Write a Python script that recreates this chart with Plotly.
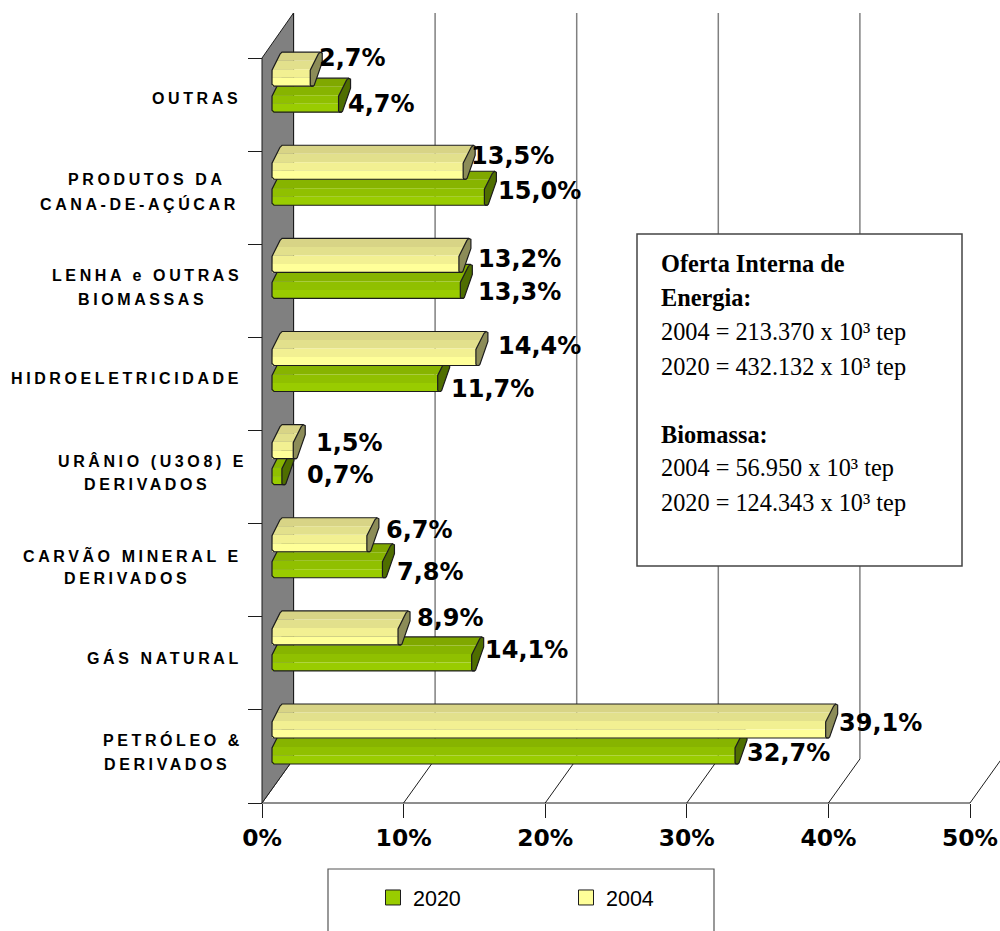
import plotly.graph_objects as go

# Energy shares per source, listed from the bottom band to the top band
categories = [
    "PETRÓLEO &<br>DERIVADOS",
    "GÁS NATURAL",
    "CARVÃO MINERAL E<br>DERIVADOS",
    "URÂNIO (U3O8) E<br>DERIVADOS",
    "HIDROELETRICIDADE",
    "LENHA e OUTRAS<br>BIOMASSAS",
    "PRODUTOS DA<br>CANA-DE-AÇÚCAR",
    "OUTRAS",
]
values_2020 = [32.7, 14.1, 7.8, 0.7, 11.7, 13.3, 15.0, 4.7]
values_2004 = [39.1, 8.9, 6.7, 1.5, 14.4, 13.2, 13.5, 2.7]
x_ticks = [0, 10, 20, 30, 40, 50]
x_tick_labels = ["0%", "10%", "20%", "30%", "40%", "50%"]

# Hand-placed data label offsets in pixels (right of bar end, above band floor)
label_dx_2020 = [20, 21, 23, 33, 21, 26, 22, 17]
label_dy_2020 = [50, 60, 45, 49, 41.5, 45, 53, 47]
label_dx_2004 = [21, 27, 27, 31, 30, 27, 16, 17]
label_dy_2004 = [80, 92, 87, 81, 84.5, 78, 88, 93]

# Category label lines: centre x and centre y in page pixels
category_line_pos = [
    [(173, 740), (167, 764)],
    [(164, 658)],
    [(132, 555), (127, 578)],
    [(152, 461), (147, 484)],
    [(126, 378)],
    [(147, 275), (142, 299)],
    [(147, 180), (139, 204)],
    [(196, 98)],
]

info_lines = [
    ("<b>Oferta Interna de</b>", 264),
    ("<b>Energia:</b>", 298),
    ("2004 = 213.370 x 10³ tep", 332),
    ("2020 = 432.132 x 10³ tep", 366),
    ("<b>Biomassa:</b>", 434),
    ("2004 = 56.950 x 10³ tep", 468),
    ("2020 = 124.343 x 10³ tep", 502),
]

W, H = 1000, 931
ORIGIN_X, ORIGIN_Y = 262, 803   # page position of 0% on the front floor edge
PX_PER_PCT = 14.16
PX_PER_BAND = 93.125
DEPTH_X, DEPTH_Y = 31.5, 44
BAR_INSET = 10                  # bars start this far right of the front plane
BAR_H = 34

INK = "#1c1c1c"
GRID = "#808080"
WALL = "#808080"

GREEN_BANDS = ["#80A800", "#87B400", "#90C000", "#99CC00"]
YELLOW_BANDS = ["#D8D486", "#E2E08C", "#F2F092", "#FFFF99"]
GREEN_CAP, YELLOW_CAP = "#4F6E00", "#8C8C58"


def ux(px):
    return px / PX_PER_PCT


def uy(px):
    return px / PX_PER_BAND


def slant(h):
    """Horizontal shift of the bar's profile at height h above its lower edge."""
    return 0 if h <= 16 else (h - 16) * 8 / 16


def body_strip(value, band, lift, h1, h2):
    heights = [h1] + ([16] if h1 < 16 < h2 else []) + [h2]
    left = ux(BAR_INSET)
    right = value + ux(BAR_INSET)
    xs, ys = [], []
    for h in heights:
        xs.append(left + ux(slant(h)))
        ys.append(band + uy(lift + h))
    for h in reversed(heights):
        xs.append(right + ux(slant(h)))
        ys.append(band + uy(lift + h))
    xs.append(xs[0])
    ys.append(ys[0])
    return xs, ys


CAP_SHAPE = [(0, 1), (0, 16), (8, 32), (10, 34), (12, 33), (12, 24), (4, 1), (3, 0), (1, 0), (0, 1)]
LEFT_SHAPE = [(2, 0), (0, 2), (0, 16), (8, 32), (10, 34)]


def series_traces(values, lift, bands, cap_color):
    traces = []
    strip_h = BAR_H / len(bands)
    for k, color in enumerate(bands):
        h2 = BAR_H - k * strip_h
        h1 = h2 - strip_h
        xs, ys = [], []
        for i, v in enumerate(values):
            px_, py_ = body_strip(v, i, lift, h1, h2)
            xs += px_ + [None]
            ys += py_ + [None]
        traces.append(go.Scatter(x=xs, y=ys, mode="lines", fill="toself", fillcolor=color,
                                 line=dict(width=0, color=color), showlegend=False, hoverinfo="skip"))
    # End caps
    xs, ys = [], []
    for i, v in enumerate(values):
        end = v + ux(BAR_INSET)
        xs += [end + ux(a) for a, _ in CAP_SHAPE] + [None]
        ys += [i + uy(lift + b) for _, b in CAP_SHAPE] + [None]
    traces.append(go.Scatter(x=xs, y=ys, mode="lines", fill="toself", fillcolor=cap_color,
                             line=dict(width=1.2, color=INK), showlegend=False, hoverinfo="skip"))
    # Body outline: left profile, top edge, and bottom edge
    xs, ys = [], []
    for i, v in enumerate(values):
        start = ux(BAR_INSET)
        end = v + ux(BAR_INSET)
        xs += [end + ux(10)] + [start + ux(a) for a, _ in reversed(LEFT_SHAPE)] + [end + ux(3), None]
        ys += [i + uy(lift + BAR_H)] + [i + uy(lift + b) for _, b in reversed(LEFT_SHAPE)] + [i + uy(lift), None]
    traces.append(go.Scatter(x=xs, y=ys, mode="lines", line=dict(width=1.2, color=INK),
                             showlegend=False, hoverinfo="skip"))
    return traces


fig = go.Figure()

n_bands = len(categories)

# Gridlines on the back wall plus their diagonals across the floor
grid_x, grid_y, diag_x, diag_y = [], [], [], []
for t in x_ticks:
    bx = t + ux(DEPTH_X)
    grid_x += [bx, bx, None]
    grid_y += [uy(DEPTH_Y), n_bands + uy(45), None]
    diag_x += [t, bx, None]
    diag_y += [0, uy(DEPTH_Y), None]
fig.add_trace(go.Scatter(x=grid_x, y=grid_y, mode="lines", line=dict(width=1.5, color=GRID),
                         showlegend=False, hoverinfo="skip"))
fig.add_trace(go.Scatter(x=diag_x, y=diag_y, mode="lines", line=dict(width=1, color=INK),
                         showlegend=False, hoverinfo="skip"))

# Side wall
wall_x = [0, ux(DEPTH_X), ux(DEPTH_X), 0, 0]
wall_y = [n_bands, n_bands + uy(45), uy(DEPTH_Y), 0, n_bands]
fig.add_trace(go.Scatter(x=wall_x, y=wall_y, mode="lines", fill="toself", fillcolor=WALL,
                         line=dict(width=1, color=INK), showlegend=False, hoverinfo="skip"))

# Floor edge
fig.add_trace(go.Scatter(x=[0, 50], y=[0, 0], mode="lines", line=dict(width=1, color=INK),
                         showlegend=False, hoverinfo="skip"))

for tr in series_traces(values_2020, 39, GREEN_BANDS, GREEN_CAP):
    fig.add_trace(tr)
for tr in series_traces(values_2004, 65, YELLOW_BANDS, YELLOW_CAP):
    fig.add_trace(tr)

# Legend entries
fig.add_trace(go.Scatter(x=[None], y=[None], mode="markers", name="2020",
                         marker=dict(symbol="square", size=15, color="#99CC00", line=dict(width=1, color=INK))))
fig.add_trace(go.Scatter(x=[None], y=[None], mode="markers", name="2004",
                         marker=dict(symbol="square", size=15, color="#FFFF99", line=dict(width=1, color=INK))))


def pct(v):
    return f"{v:.1f}".replace(".", ",") + "%"


annotations = []
LABEL_FONT = dict(family="DejaVu Sans", size=24, color="black", weight="bold")
for vals, dxs, dys in ((values_2020, label_dx_2020, label_dy_2020),
                       (values_2004, label_dx_2004, label_dy_2004)):
    for i, v in enumerate(vals):
        annotations.append(dict(x=v, y=i, xref="x", yref="y", text=pct(v), showarrow=False,
                                xanchor="left", yanchor="middle", xshift=dxs[i], yshift=dys[i], font=LABEL_FONT))

for name, positions in zip(categories, category_line_pos):
    for line, (cx, cy) in zip(name.split("<br>"), positions):
        annotations.append(dict(x=cx / W, y=1 - cy / H, xref="paper", yref="paper", showarrow=False,
                                xanchor="center", yanchor="middle",
                                text=f'<span style="letter-spacing:3.6px">{line}</span>',
                                font=dict(family="Liberation Sans", size=16, color="black", weight="bold")))

for text, cy in info_lines:
    annotations.append(dict(x=658.5 / W, y=1 - cy / H, xref="paper", yref="paper", showarrow=False,
                            xanchor="left", yanchor="middle", text=text,
                            font=dict(family="Liberation Serif", size=24.3, color="black")))

shapes = [
    dict(type="rect", xref="paper", yref="paper", x0=637 / W, x1=962 / W, y0=1 - 566 / H, y1=1 - 234 / H,
         fillcolor="white", line=dict(color="#444444", width=1.5)),
    dict(type="rect", xref="paper", yref="paper", x0=328 / W, x1=714 / W, y0=-0.02, y1=1 - 869 / H,
         fillcolor="white", line=dict(color="#555555", width=1.2)),
]

fig.update_layout(
    width=W, height=H,
    margin=dict(l=0, r=0, t=0, b=0),
    paper_bgcolor="white", plot_bgcolor="white",
    annotations=annotations,
    shapes=shapes,
    legend=dict(orientation="h", x=0.373, y=1 - 877 / H, xanchor="left", yanchor="top",
                bgcolor="rgba(0,0,0,0)", entrywidth=148, entrywidthmode="pixels",
                font=dict(family="Liberation Sans", size=21.5, color="black")),
    xaxis=dict(range=[-ORIGIN_X / PX_PER_PCT, (W - ORIGIN_X) / PX_PER_PCT],
               tickmode="array", tickvals=x_ticks, ticktext=x_tick_labels,
               showgrid=False, zeroline=False, showline=False,
               ticks="outside", ticklen=14, tickwidth=1, tickcolor=INK,
               tickfont=dict(family="DejaVu Sans", size=23.4, color="black", weight="bold"),
               anchor="free", position=(H - ORIGIN_Y) / H, domain=[0, 1]),
    yaxis=dict(range=[(ORIGIN_Y - H) / PX_PER_BAND, ORIGIN_Y / PX_PER_BAND],
               tickmode="array", tickvals=list(range(n_bands + 1)), showticklabels=False,
               showgrid=False, zeroline=False, showline=False,
               ticks="outside", ticklen=14, tickwidth=1, tickcolor=INK,
               anchor="free", position=ORIGIN_X / W, domain=[0, 1]),
)

fig.write_html("out.html")
